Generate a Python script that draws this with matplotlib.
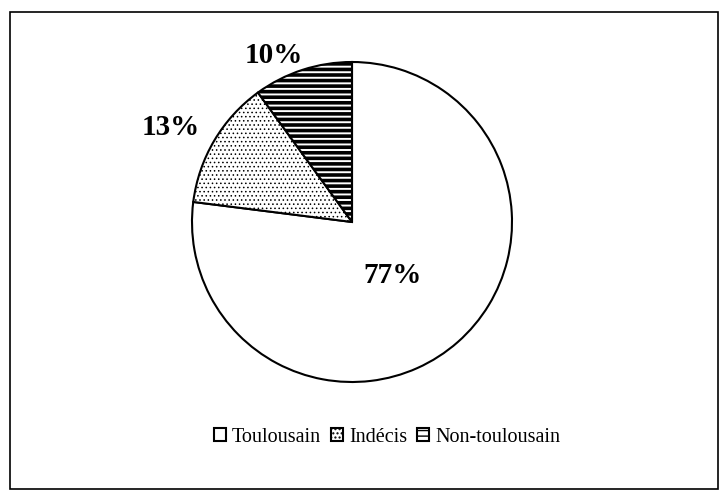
import matplotlib
matplotlib.use("Agg")
import matplotlib.pyplot as plt
from matplotlib.patches import Rectangle
import numpy as np

categories = ["Toulousain", "Indécis", "Non-toulousain"]
shares = [77, 13, 10]
pct_labels = ["77%", "13%", "10%"]
hatches = ["", "....", "---"]
# radial distance of each percentage label (in pie radii) and angular nudge (deg)
label_dist = [0.42, 1.28, 1.15]
label_nudge = [-4, 3, 7]

plt.rcParams["font.family"] = ["Liberation Serif", "DejaVu Serif"]
plt.rcParams["hatch.color"] = "black"

W, H = 725, 495
fig = plt.figure(figsize=(W / 100, H / 100), dpi=100)

# outer chart frame
fig.patches.append(Rectangle((10 / W, 1 - 489 / H), 708 / W, 477 / H,
                             transform=fig.transFigure, fill=False,
                             edgecolor="black", linewidth=1.2))

cx, cy, r = 352, 222, 160
ax = fig.add_axes([(cx - r) / W, 1 - (cy + r) / H, 2 * r / W, 2 * r / H])

wedges, _ = ax.pie(shares, startangle=90, counterclock=False, radius=1,
                   colors=["white"] * 3,
                   wedgeprops=dict(edgecolor="black", linewidth=1.5))
ax.set_xlim(-1, 1)
ax.set_ylim(-1, 1)
ax.axis("off")

for w, h in zip(wedges, hatches):
    w.set_hatch(h)
    if hasattr(w, "set_hatch_linewidth"):
        w.set_hatch_linewidth(2.6 if "-" in h else 0.6)

for w, txt, d, nudge in zip(wedges, pct_labels, label_dist, label_nudge):
    ang = np.deg2rad((w.theta1 + w.theta2) / 2 + nudge)
    ax.text(d * np.cos(ang), d * np.sin(ang), txt, ha="center", va="center",
            fontsize=21, fontweight="bold")

leg = fig.legend(wedges, categories, loc="center", ncol=3,
                 bbox_to_anchor=(387 / W, 1 - 437 / H), frameon=False,
                 fontsize=14.5, handlelength=0.6, handleheight=0.6,
                 handletextpad=0.3, columnspacing=0.5)

fig.savefig("out.png", dpi=100)
